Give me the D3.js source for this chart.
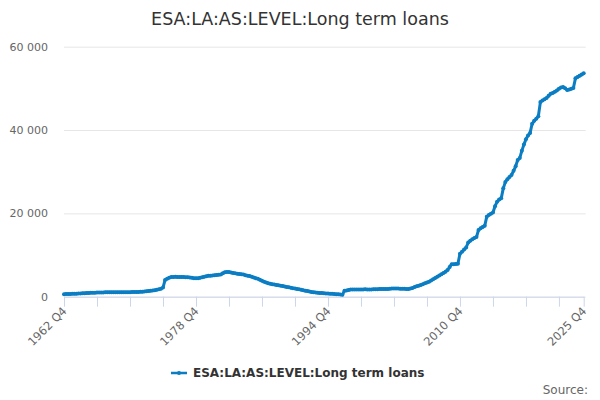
<!DOCTYPE html>
<html>
<head>
<meta charset="utf-8">
<script src="https://cdn.jsdelivr.net/npm/d3@7"></script>
<style>
  body { margin: 0; background: #fff; }
  svg { font-family: "DejaVu Sans", sans-serif; }
</style>
</head>
<body>
<div class="chart"></div>
<script>
// series: quarterly, 1962 Q4 .. 2025 Q4
const firstYear = 1962;
const values = [
  600,
  620, 640, 660, 680,        // 1963
  700, 720, 750, 780,        // 1964
  800, 830, 860, 890,        // 1965
  920, 950, 970, 1000,       // 1966
  1010, 1020, 1030, 1040,    // 1967
  1040, 1050, 1050, 1060,    // 1968
  1060, 1060, 1070, 1070,    // 1969
  1070, 1080, 1080, 1090,    // 1970
  1100, 1110, 1130, 1150,    // 1971
  1180, 1210, 1250, 1300,    // 1972
  1350, 1410, 1480, 1560,    // 1973
  1650, 1760, 1900, 2200,    // 1974
  4000, 4300, 4550, 4700,    // 1975
  4750, 4760, 4750, 4740,    // 1976
  4720, 4700, 4680, 4650,    // 1977
  4600, 4550, 4450, 4400,    // 1978
  4450, 4550, 4650, 4780,    // 1979
  4900, 5000, 5050, 5100,    // 1980
  5150, 5200, 5250, 5300,    // 1981
  5600, 5850, 5950, 5900,    // 1982
  5800, 5700, 5600, 5500,    // 1983
  5450, 5400, 5300, 5170,    // 1984
  5050, 4950, 4800, 4600,    // 1985
  4450, 4300, 4050, 3800,    // 1986
  3600, 3400, 3250, 3100,    // 1987
  3000, 2900, 2830, 2760,    // 1988
  2650, 2550, 2450, 2350,    // 1989
  2250, 2150, 2050, 1970,    // 1990
  1870, 1760, 1650, 1550,    // 1991
  1450, 1350, 1250, 1150,    // 1992
  1080, 1000, 950, 900,      // 1993
  860, 820, 790, 770,        // 1994
  720, 680, 640, 600,        // 1995
  560, 520, 450, 1450,       // 1996
  1500, 1600, 1700, 1730,    // 1997
  1720, 1700, 1720, 1740,    // 1998
  1750, 1760, 1740, 1730,    // 1999
  1740, 1760, 1780, 1800,    // 2000
  1820, 1830, 1840, 1850,    // 2001
  1870, 1900, 1940, 1970,    // 2002
  1970, 1950, 1920, 1900,    // 2003
  1880, 1870, 1870, 1950,    // 2004
  2100, 2300, 2500, 2650,    // 2005
  2800, 3000, 3200, 3400,    // 2006
  3600, 3900, 4200, 4500,    // 2007
  4800, 5100, 5400, 5700,    // 2008
  6000, 6400, 7100, 7800,    // 2009
  7800, 7850, 7900, 10300,   // 2010
  10800, 11300, 11800, 13000, // 2011
  13400, 13800, 14100, 14300, // 2012
  16000, 16400, 16700, 17000, // 2013
  19200, 19600, 19900, 20200, // 2014
  21700, 22800, 23300, 23600, // 2015
  26000, 27500, 28200, 28700, // 2016
  29200, 30200, 31300, 32800, // 2017
  33300, 35000, 36500, 37800, // 2018
  38700, 39300, 41500, 42200, // 2019
  42700, 43300, 46700, 47100, // 2020
  47400, 47700, 48200, 48700, // 2021
  48900, 49200, 49500, 49900, // 2022
  50200, 50300, 50000, 49600, // 2023
  49700, 49900, 50100, 52400, // 2024
  52700, 53000, 53300, 53600  // 2025
];
const yTicks = [0, 20000, 40000, 60000];
const xLabels = ['1962 Q4', '1978 Q4', '1994 Q4', '2010 Q4', '2025 Q4'];
const title = 'ESA:LA:AS:LEVEL:Long term loans';
const seriesName = 'ESA:LA:AS:LEVEL:Long term loans';

// quarter names, one per value
const quarters = values.map((v, i) => {
  const q = 3 + i; // 1962 Q4 is quarter index 3 of 1962
  return `${firstYear + Math.floor(q / 4)} Q${q % 4 + 1}`;
});
const data = quarters.map((q, i) => ({ q, v: values[i] }));

const width = 600;
const height = 400;
const plotL = 64, plotR = 583.7, plotT = 46.7, plotB = 296.7;
const color = '#0b7dc3';

const svg = d3.select('.chart')
  .append('svg')
  .attr('width', width)
  .attr('height', height);

const x = d3.scalePoint()
  .domain(quarters)
  .range([plotL, plotR]);

const y = d3.scaleLinear()
  .domain([0, 60000])
  .range([plotB, plotT]);

// title
svg.append('text')
  .attr('x', width / 2)
  .attr('y', 25)
  .attr('text-anchor', 'middle')
  .attr('font-size', '17.5px')
  .attr('fill', '#333')
  .text(title);

// grid + y labels
const fmt = d => d3.format(',')(d).replace(/,/g, ' ');
const yAxis = svg.append('g')
  .attr('transform', `translate(${plotL},0)`)
  .call(d3.axisLeft(y).tickValues(yTicks).tickSize(-(plotR - plotL + 2)).tickFormat(fmt));
yAxis.select('.domain').remove();
yAxis.selectAll('line').attr('stroke', '#e6e6e6');
yAxis.selectAll('text')
  .attr('x', -16)
  .attr('fill', '#666')
  .attr('font-size', '11px')
  .attr('font-family', '"DejaVu Sans", sans-serif');

// x axis
const tickCats = quarters.filter((q, i) => i % 16 === 0 || i === quarters.length - 1);
const xAxis = svg.append('g')
  .attr('transform', `translate(0,${plotB})`)
  .call(d3.axisBottom(x).tickValues(tickCats).tickSize(10).tickSizeOuter(0)
    .tickFormat(d => xLabels.includes(d) ? d : ''));
xAxis.select('.domain').attr('stroke', '#ccd6eb');
xAxis.selectAll('line').attr('stroke', '#ccd6eb');
xAxis.selectAll('text')
  .attr('fill', '#666')
  .attr('font-size', '11.5px')
  .attr('font-family', '"DejaVu Sans", sans-serif')
  .attr('text-anchor', 'end')
  .attr('dy', null)
  .attr('y', 0)
  .attr('transform', 'translate(3,15) rotate(-45)');

// line
const line = d3.line()
  .x(d => x(d.q))
  .y(d => y(d.v));

svg.append('path')
  .datum(data)
  .attr('fill', 'none')
  .attr('stroke', color)
  .attr('stroke-width', 3)
  .attr('stroke-linejoin', 'round')
  .attr('d', line);

svg.append('g')
  .selectAll('circle')
  .data(data)
  .enter()
  .append('circle')
  .attr('cx', d => x(d.q))
  .attr('cy', d => y(d.v))
  .attr('r', 2)
  .attr('fill', color);

// legend
const legend = svg.append('g')
  .attr('transform', 'translate(171,373)');
legend.append('line')
  .attr('x1', 0).attr('x2', 16)
  .attr('stroke', color)
  .attr('stroke-width', 2.5);
legend.append('circle')
  .attr('cx', 8)
  .attr('r', 2)
  .attr('fill', color);
legend.append('text')
  .attr('x', 22)
  .attr('y', 4)
  .attr('font-size', '12px')
  .attr('font-weight', 'bold')
  .attr('fill', '#333')
  .text(seriesName);

// credits
svg.append('text')
  .attr('x', 588)
  .attr('y', 394)
  .attr('text-anchor', 'end')
  .attr('font-size', '12px')
  .attr('fill', '#666')
  .text('Source:');
</script>
</body>
</html>
